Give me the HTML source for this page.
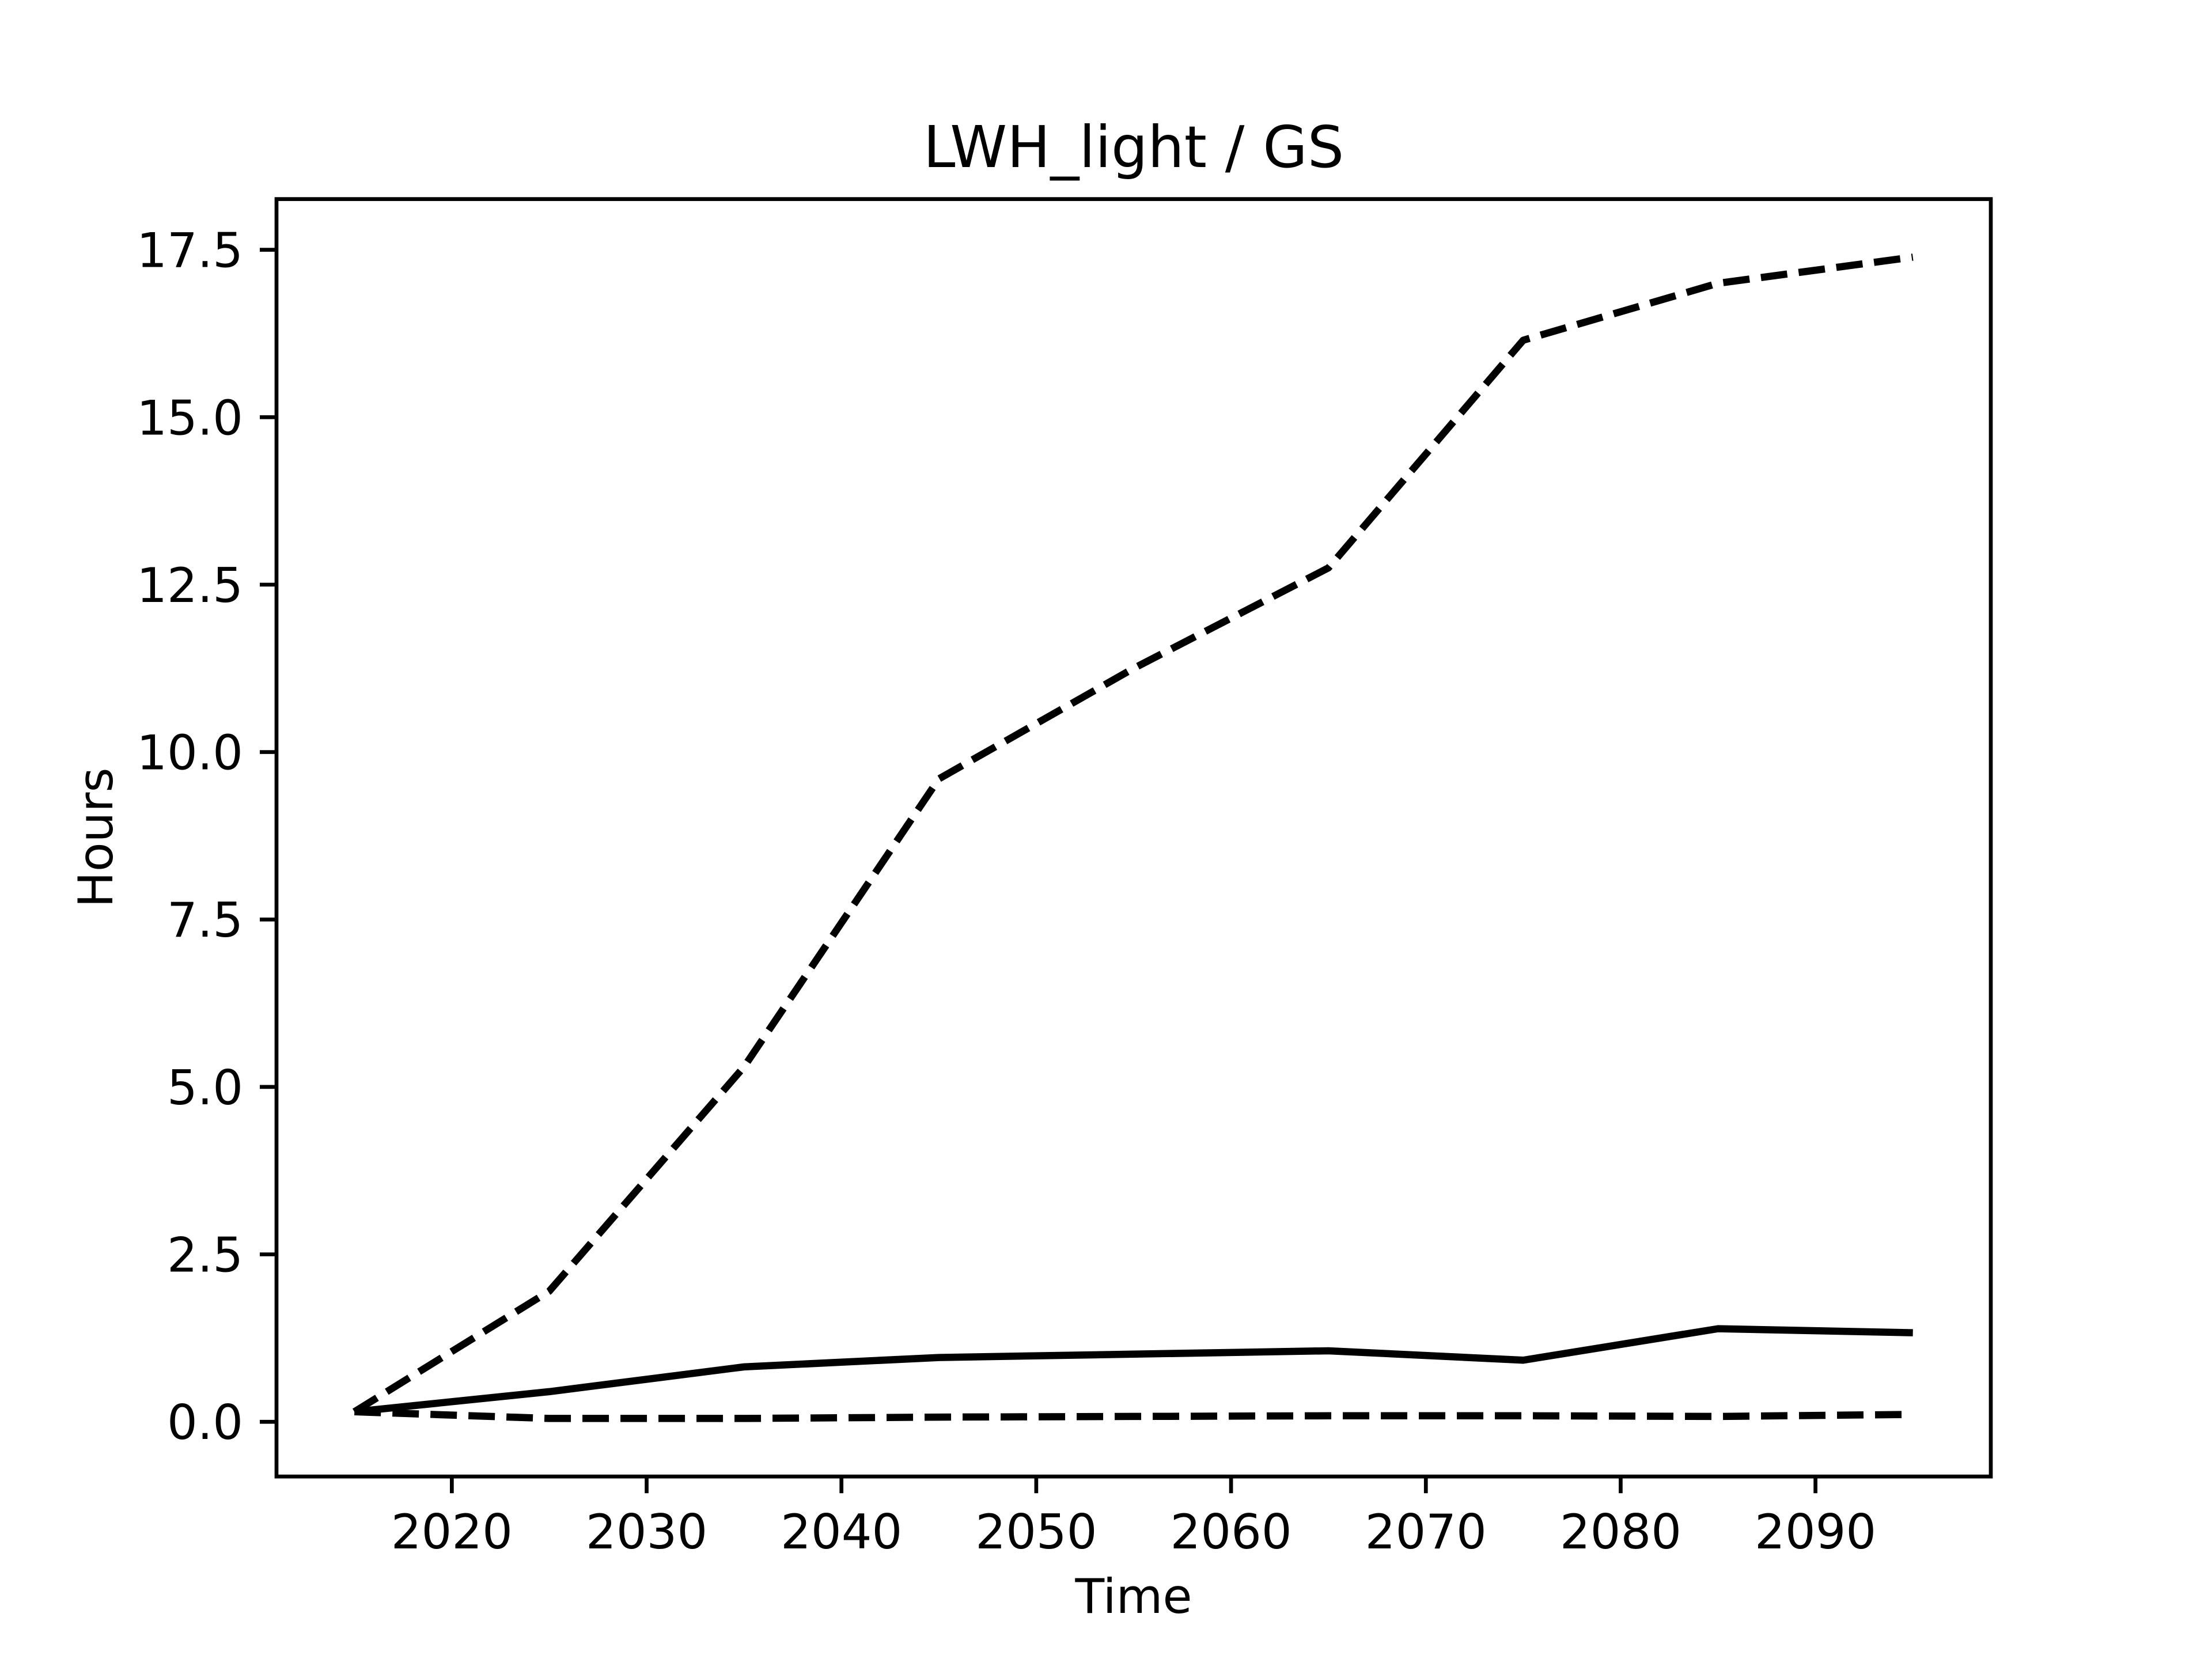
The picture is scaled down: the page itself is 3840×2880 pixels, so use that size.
<!DOCTYPE html>
<html><head><meta charset="utf-8"><style>
html,body{margin:0;padding:0;background:#fff}
svg{display:block;font-family:"DejaVu Sans","Liberation Sans",sans-serif}
</style></head><body>
<svg id="chart" width="3840" height="2880" viewBox="0 0 3840 2880" xmlns="http://www.w3.org/2000/svg">
<rect width="3840" height="2880" fill="#fff"/>
<text x="1968" y="290" font-size="100" text-anchor="middle">LWH_light / GS</text>
<g id="ticks"></g>
<g id="series"></g>
<rect x="480" y="345.6" width="2976" height="2217.6" fill="none" stroke="#000" stroke-width="6.7"/>
<text x="1968" y="2800" font-size="83" text-anchor="middle">Time</text>
<text transform="translate(195,1454) rotate(-90)" font-size="83" text-anchor="middle">Hours</text>
</svg>
<script>
const years=[2015,2025,2035,2045,2055,2065,2075,2085,2095];
const upperValues=[0.15,1.95,5.3,9.6,11.25,12.75,16.15,17.0,17.39];
const meanValues=[0.15,0.45,0.82,0.96,1.01,1.06,0.92,1.39,1.33];
const lowerValues=[0.15,0.05,0.05,0.07,0.08,0.09,0.09,0.08,0.11];
const xTicks=[2020,2030,2040,2050,2060,2070,2080,2090];
const yTicks=[0,2.5,5,7.5,10,12.5,15,17.5];
const L=480,R=3456,T=345.6,B=2563.2;
const allV=upperValues.concat(meanValues,lowerValues);
const ymin=Math.min(...allV),ymax=Math.max(...allV),yr=ymax-ymin;
const y0=ymin-0.05*yr,y1=ymax+0.05*yr;
const xmin=Math.min(...years),xmax=Math.max(...years),xr=xmax-xmin;
const x0=xmin-0.05*xr,x1=xmax+0.05*xr;
const sx=v=>L+(v-x0)/(x1-x0)*(R-L);
const sy=v=>B-(v-y0)/(y1-y0)*(B-T);
const NS="http://www.w3.org/2000/svg";
const tg=document.getElementById('ticks'),sg=document.getElementById('series');
function mk(tag,attrs,parent){const e=document.createElementNS(NS,tag);for(const k in attrs)e.setAttribute(k,attrs[k]);parent.appendChild(e);return e;}
xTicks.forEach(t=>{
  const l=mk('line',{x1:sx(t),x2:sx(t),y1:B,y2:B+29,stroke:'#000','stroke-width':6.7},tg);
  
  
  const tx=mk('text',{x:sx(t),y:2688,'font-size':83,'text-anchor':'middle'},tg);
  
  
  tx.textContent=t;
});
yTicks.forEach(t=>{
  const l=mk('line',{x1:L-29,x2:L,y1:sy(t),y2:sy(t),stroke:'#000','stroke-width':6.7},tg);
  
  
  const tx=mk('text',{x:422,y:sy(t)+30,'font-size':83,'text-anchor':'end'},tg);
  
  
  tx.textContent=t.toFixed(1);
});
function line(vals,dash,name){
  const p=mk('polyline',{points:vals.map((v,i)=>sx(years[i])+','+sy(v)).join(' '),fill:'none',stroke:'#000','stroke-width':12.5,'stroke-dasharray':dash?'46 20':'none','stroke-linejoin':'round'},sg);
  
  
}
line(upperValues,true,'upper-bound-line');
line(meanValues,false,'mean-line');
line(lowerValues,true,'lower-bound-line');
</script>
</body></html>
